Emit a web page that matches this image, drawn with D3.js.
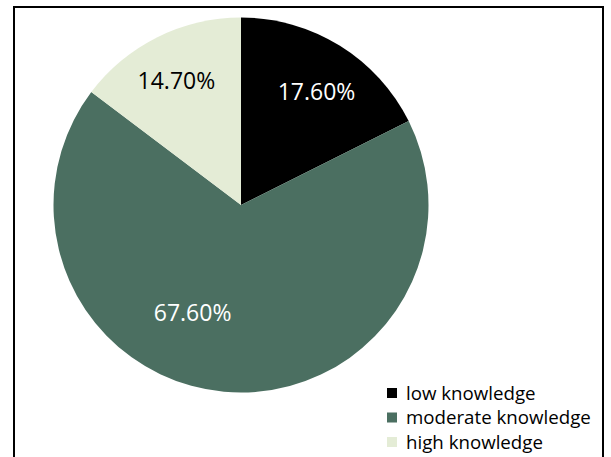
<!DOCTYPE html>
<html>
<head>
<meta charset="utf-8">
<script src="https://cdn.jsdelivr.net/npm/d3@7"></script>
<style>
    body { margin: 0; background: #fff; }
    text { font-family: "Open Sans", sans-serif; }
</style>
</head>
<body>
<div id="chart"></div>
<script>
// Data
const categories = ['low knowledge', 'moderate knowledge', 'high knowledge'];
const values = [17.6, 67.6, 14.7];
const labels = ['17.60%', '67.60%', '14.70%'];
const colors = ['#000000', '#4b6f61', '#e4ecd6'];
const labelColors = ['#ffffff', '#ffffff', '#000000'];

// Layout
const width = 611, height = 457;
const cx = 241, cy = 205, radius = 187.5;
// label placement (angle offset in degrees, distance from centre)
const labelPlace = [
    { shift: 2, dist: 136 },
    { shift: 19, dist: 118 },
    { shift: -1, dist: 140 }
];

const svg = d3.select('#chart')
    .append('svg')
    .attr('width', width)
    .attr('height', height);

// Frame
svg.append('rect')
    .attr('x', 14)
    .attr('y', 7)
    .attr('width', 589)
    .attr('height', 470)
    .attr('fill', 'none')
    .attr('stroke', '#000')
    .attr('stroke-width', 2);

const pie = d3.pie().sort(null).value(d => d);
const arcs = pie(values);
const arc = d3.arc().innerRadius(0).outerRadius(radius);

const g = svg.append('g').attr('transform', `translate(${cx},${cy})`);

g.selectAll('path')
    .data(arcs)
    .join('path')
    .attr('d', arc)
    .attr('fill', (d, i) => colors[i]);

// Slice labels
g.selectAll('.slice-label')
    .data(arcs)
    .join('text')
    .attr('class', 'slice-label')
    .attr('transform', (d, i) => {
        const a = (d.startAngle + d.endAngle) / 2 + labelPlace[i].shift * Math.PI / 180;
        const r = labelPlace[i].dist;
        return `translate(${r * Math.sin(a)},${-r * Math.cos(a)})`;
    })
    .attr('text-anchor', 'middle')
    .attr('dy', '0.35em')
    .attr('font-size', 23)
    .attr('fill', (d, i) => labelColors[i])
    .text((d, i) => labels[i]);

// Legend
const legend = svg.append('g').attr('transform', 'translate(387,393)');
const rows = legend.selectAll('g')
    .data(categories)
    .join('g')
    .attr('transform', (d, i) => `translate(0,${i * 24.5})`);

rows.append('rect')
    .attr('x', 0)
    .attr('y', -5)
    .attr('width', 10)
    .attr('height', 10)
    .attr('fill', (d, i) => colors[i]);

rows.append('text')
    .attr('x', 19)
    .attr('dy', '0.35em')
    .attr('font-size', 18.7)
    .attr('fill', '#000')
    .text(d => d);
</script>
</body>
</html>
